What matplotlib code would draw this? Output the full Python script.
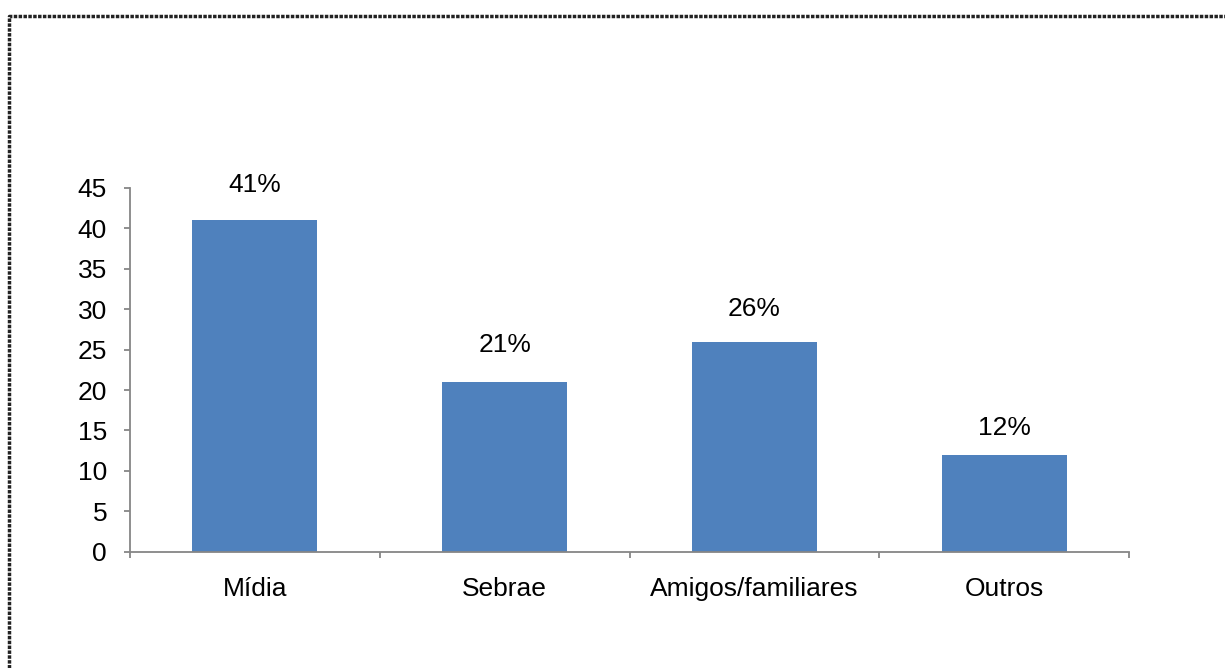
import matplotlib
matplotlib.use("Agg")
import matplotlib.pyplot as plt
from matplotlib.lines import Line2D

plt.rcParams['font.family'] = ['Liberation Sans', 'DejaVu Sans']

categories = ["Mídia", "Sebrae", "Amigos/familiares", "Outros"]
values = [41, 21, 26, 12]
value_labels = ["41%", "21%", "26%", "12%"]
y_ticks = [0, 5, 10, 15, 20, 25, 30, 35, 40, 45]

# vertical offset (points) of each value label above its bar
label_offsets = [25.5, 26.5, 23.5, 19]

W, H = 1225, 668
fig = plt.figure(figsize=(W / 100, H / 100), dpi=100)
fig.patch.set_facecolor("white")

ax = fig.add_axes([130 / W, 1 - 551.7 / H, (1129 - 130) / W, (551.7 - 188) / H])

x = list(range(len(categories)))
ax.bar(x, values, width=0.5, color="#4F81BD", zorder=2)

fs = 19
for xi, v, lab, off in zip(x, values, value_labels, label_offsets):
    ax.annotate(lab, (xi, v), xytext=(0, off), textcoords="offset points",
                ha="center", va="center", fontsize=fs, color="black")

ax.set_xlim(-0.5, len(categories) - 0.5)
ax.set_ylim(0, 45)
ax.set_yticks(y_ticks)
ax.set_xticks(x)
ax.set_xticklabels(categories)
ax.set_xticks([i - 0.5 for i in range(len(categories) + 1)], minor=True)

axis_color = "#868686"
for side in ("top", "right"):
    ax.spines[side].set_visible(False)
for side in ("left", "bottom"):
    ax.spines[side].set_color(axis_color)
    ax.spines[side].set_linewidth(1.3)

ax.tick_params(axis="y", direction="out", length=4.5, width=1.3, color=axis_color,
               labelsize=fs, pad=12)
ax.tick_params(axis="x", which="major", length=0, labelsize=fs, pad=18)
ax.tick_params(axis="x", which="minor", direction="out", length=4.5, width=1.3,
               color=axis_color)

# dotted frame around the figure area
frame = Line2D([8.5 / W, 8.5 / W, 1.0], [0.0, 1 - 15.5 / H, 1 - 15.5 / H],
               transform=fig.transFigure, color="#222222", lw=2.5,
               linestyle=(0, (1.0, 0.4)), solid_capstyle="butt")
fig.add_artist(frame)

fig.savefig("out.png", dpi=100, facecolor="white")
